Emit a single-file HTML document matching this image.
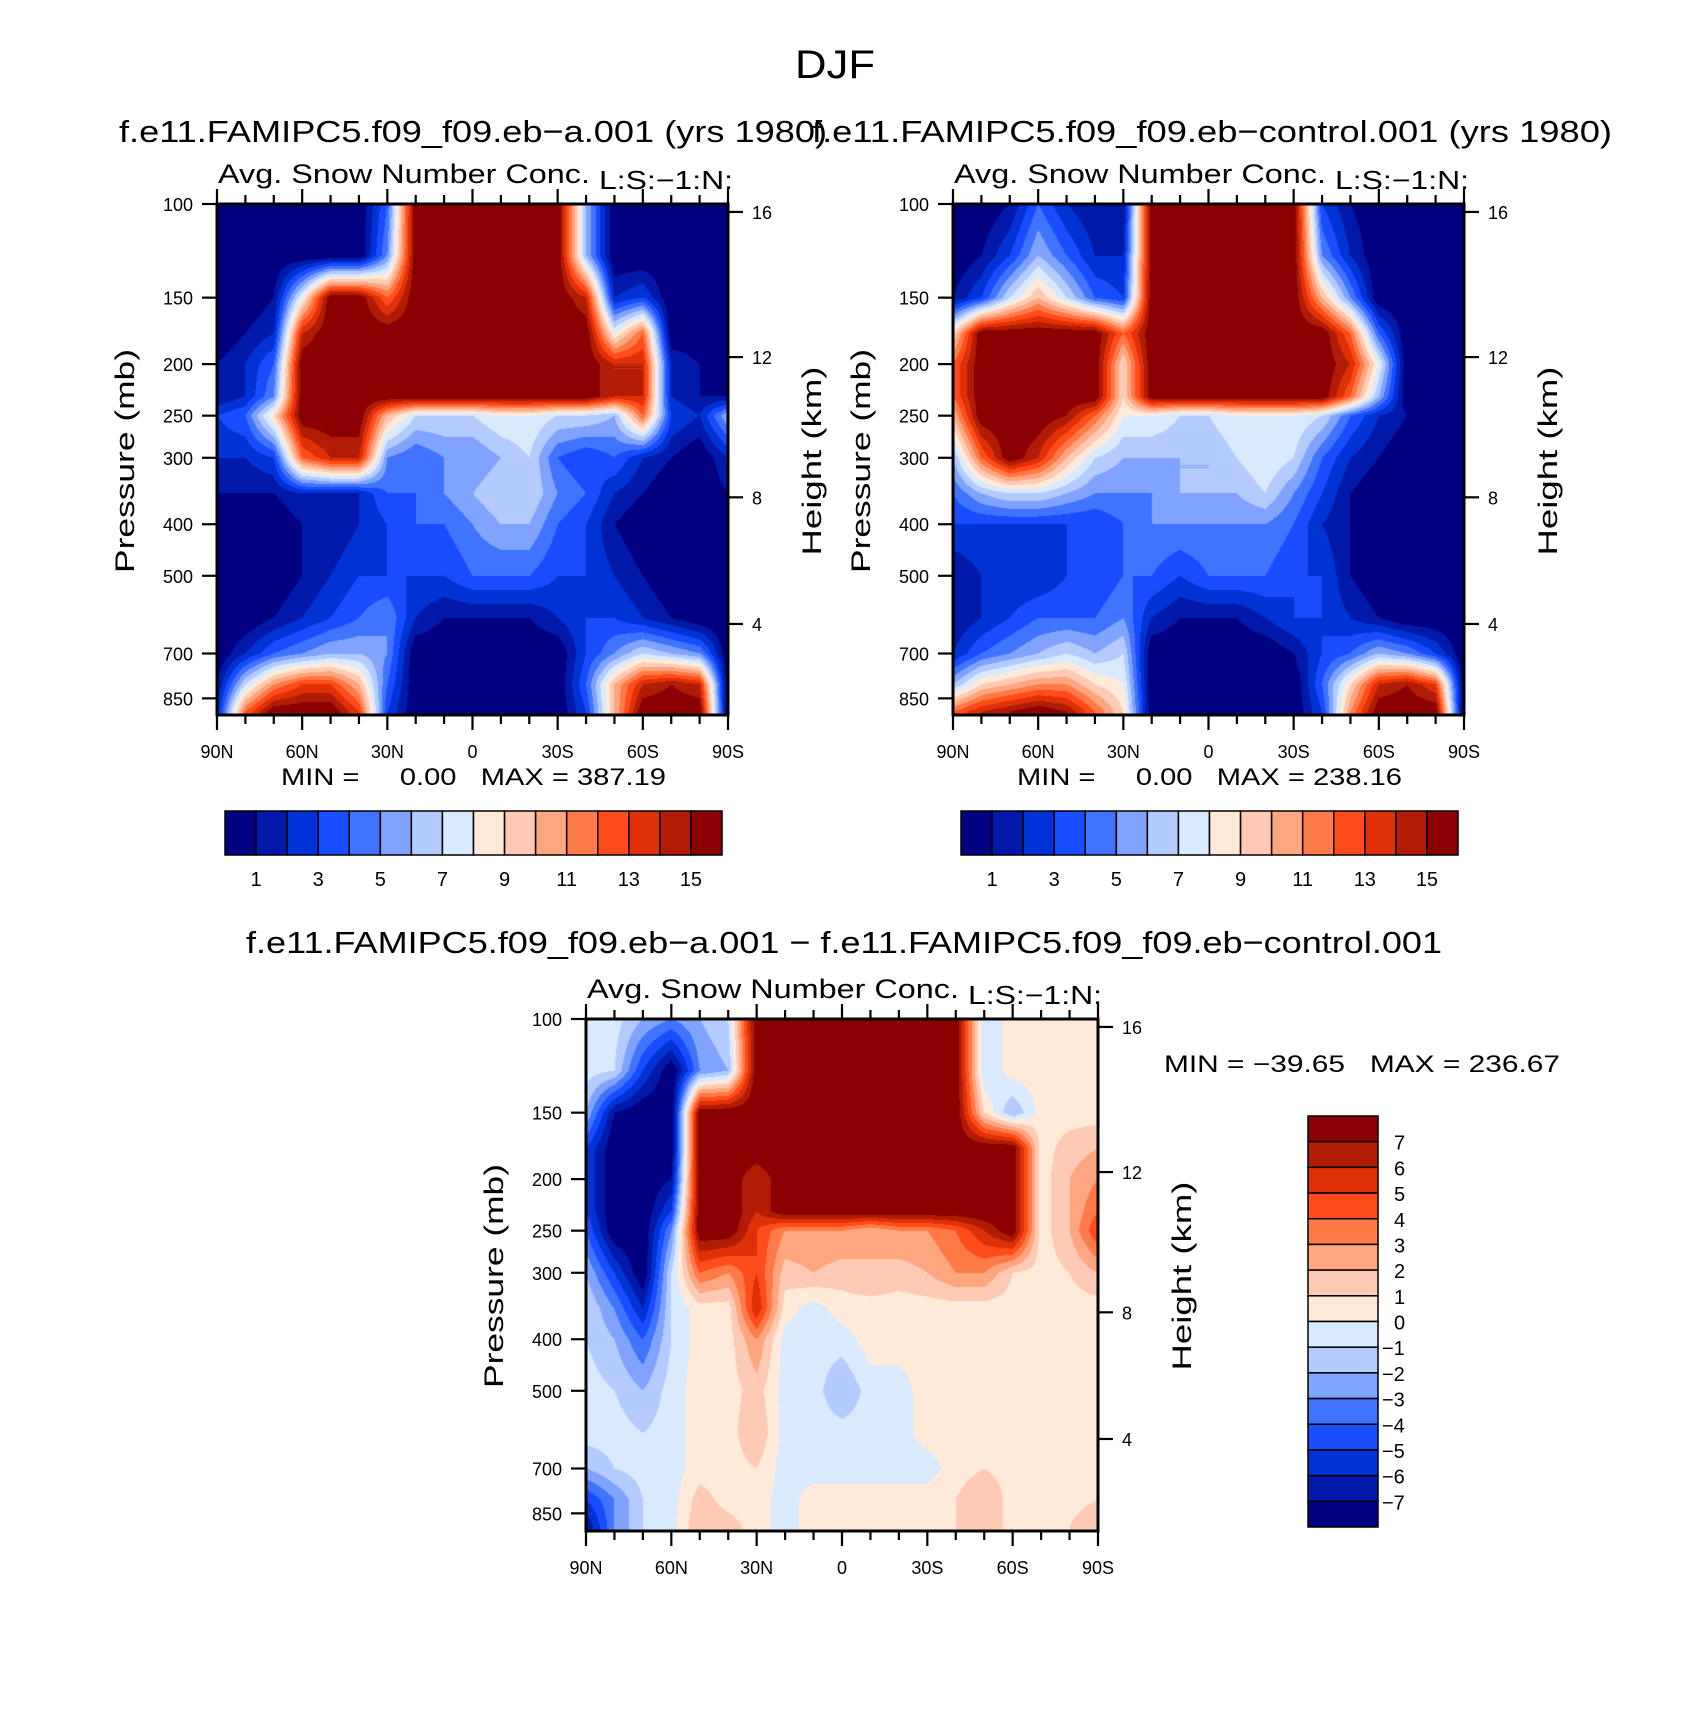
<!DOCTYPE html>
<html><head><meta charset="utf-8">
<style>
html,body{margin:0;padding:0;background:#fff;}
#root{position:relative;width:1699px;height:1736px;overflow:hidden;background:#fff;}
canvas{position:absolute;}
svg{position:absolute;left:0;top:0;}
text{font-family:"Liberation Sans",sans-serif;fill:#000;white-space:pre;}
</style></head>
<body>
<div id="root">
<canvas id="cA" width="511" height="511" style="left:217px;top:204px"></canvas>
<canvas id="cB" width="511" height="511" style="left:953px;top:204px"></canvas>
<canvas id="cC" width="512" height="512" style="left:586px;top:1019px"></canvas>
<svg id="ov" width="1699" height="1736"></svg>
</div>
<script>
// ---------- data ----------
const lats = [90,80,70,60,50,40,30,20,10,0,-10,-20,-30,-40,-50,-60,-70,-80,-90];
const levels = [100,125,150,175,200,230,250,300,350,400,500,600,700,800,900];
const latTicks = [90,60,30,0,-30,-60,-90];
const latTickLabels = ["90N","60N","30N","0","30S","60S","90S"];
const presTicks = [100,150,200,250,300,400,500,700,850];
const kmTicks = [16,12,8,4];
const kmTickPres = [103.5,194,356,616];
const cbLabelsAB = ["1","3","5","7","9","11","13","15"];
const cbLabelsC = ["7","6","5","4","3","2","1","0","\u22121","\u22122","\u22123","\u22124","\u22125","\u22126","\u22127"];
const palette = ["#000080","#0019a8","#0033d6","#1a4cff","#4073ff","#80a3ff","#b3cbff","#d9eaff",
 "#ffe9d9","#ffcab3","#ffa680","#ff7a47","#ff4c1a","#e03008","#b01c06","#8b0000"];
const valsA = [
[0,0,0,0,0,0,4,16,16,16,16,16,16,6,0,0,0,0,0],
[0,0,0,0,0,0,5,16,16,16,16,16,16,6,0,0,0,0,0],
[0,0,1,8,16,16,12,16,16,16,16,16,16,14,2,3,0,0,0],
[0,1,2,14,16,16,16,16,16,16,16,16,16,16,8,12,0,0,0],
[1,2,4,16,16,16,16,16,16,16,16,16,16,16,14,14,2,1,0],
[1,2,5,16,16,16,16,16,16,16,16,16,16,16,14,14,2,1,1],
[3,4,9,16,16,16,10,7,7,7,8,8,7,7,6,12,3,2,6],
[2,2,3,12,14,14,5,4,5,5,6,7,4,3,4,2,1,0,2],
[1,1,1,2,2,2,4,4,5,6,7,7,5,4,2,1,0,0,1],
[0,0,0,1,1,2,3,4,4,5,6,6,4,3,1,0,0,0,0],
[0,0,0,1,2,3,3,3,3,4,4,4,3,3,2,1,0,0,0],
[0,0,1,2,3,4,5,2,1,1,1,1,2,3,3,2,1,0,0],
[0,2,4,5,6,6,5,0,0,0,0,0,0,3,5,7,6,5,0],
[1,7,11,13,13,10,4,0,0,0,0,0,0,4,10,14,15,14,0],
[2,12,16,16,16,13,3,0,0,0,0,0,0,3,10,16,16,16,0]];
const valsB = [
[0,0,1,4,2,1,1,16,16,16,16,16,16,3,1,0,0,0,0],
[0,1,3,6,4,2,2,16,16,16,16,16,16,5,2,0,0,0,0],
[1,3,7,10,7,4,3,16,16,16,16,16,16,10,5,0,0,0,0],
[9,16,16,16,16,16,12,16,16,16,16,16,16,16,12,4,0,0,0],
[12,16,16,16,16,16,9,16,16,16,16,16,16,16,14,8,0,0,0],
[12,16,16,16,16,16,9,16,16,16,16,16,16,16,12,6,0,0,0],
[10,16,16,16,15,12,8,8,7,7,8,8,8,7,4,2,1,1,0],
[6,12,16,14,10,7,6,6,6,6,7,8,7,4,2,1,0,0,0],
[4,6,7,7,6,5,5,5,6,6,6,7,5,3,1,0,0,0,0],
[3,3,3,3,3,3,4,5,5,5,5,5,4,2,1,0,0,0,0],
[1,2,2,2,3,3,4,4,3,4,4,4,3,3,1,0,0,0,0],
[1,2,3,4,4,4,5,2,1,1,1,2,3,3,2,1,0,0,0],
[2,4,5,6,7,6,7,0,0,0,0,0,1,3,4,6,5,3,0],
[6,9,10,11,11,9,8,0,0,0,0,0,0,4,9,14,15,13,0],
[12,14,15,16,15,12,9,0,0,0,0,0,0,3,11,16,16,16,0]];
const valsC = [
[-0.5,-0.5,-2,-3,-2,-1,8,8,8,8,8,8,8,8,-1,0.5,0.5,0.5,0.5],
[-0.5,-1,-5,-8,-3,-2,8,8,8,8,8,8,8,8,-1,0.5,0.5,0.5,0.5],
[-2,-7,-8,-8,8,8,8,8,8,8,8,8,8,8,1,-2,0.5,0.5,0.5],
[-5,-8,-8,-8,8,8,8,8,8,8,8,8,8,8,8,8,0.5,1.5,2],
[-5,-8,-8,-7,8,8,6,8,8,8,8,8,8,8,8,8,0.5,2,3],
[-5,-8,-8,-5,8,8,6,8,8,8,8,8,8,8,8,8,0.5,2,4],
[-4,-8,-8,-3,8,8,5,3,3,3,2,3,3,4,6,8,0.5,2,5],
[-2,-5,-8,-1,4,3,5,1.5,2,1.5,2,1.5,2,3,3,1,0.5,1,2],
[-1,-3,-6,-1,0.5,0.5,6,0.5,-0.5,0.5,0.5,0.5,0.5,0.5,0.5,0.5,0.5,0.5,0.5],
[-1,-2,-4,-1,0.5,0.5,3,-0.5,-0.5,-0.5,0.5,0.5,0.5,0.5,0.5,0.5,0.5,0.5,0.5],
[-0.5,-1,-2,-0.5,0.5,0.5,1.5,-0.5,-0.5,-2,-0.5,-0.5,0.5,0.5,0.5,0.5,0.5,0.5,0.5],
[-0.5,-0.5,-1,-0.5,0.5,0.5,2,-0.5,-0.5,-0.5,-0.5,-0.5,0.5,0.5,0.5,0.5,0.5,0.5,0.5],
[-2,-1,-0.5,-0.5,0.5,0.5,1,-0.5,-0.5,-0.5,-0.5,-0.5,-0.5,0.5,1,0.5,0.5,0.5,1],
[-5,-3,-1,-0.5,1.5,0.5,0.5,-0.5,0.5,0.5,0.5,0.5,0.5,1,2,0.5,0.5,0.5,1],
[-7,-3,-1,-0.5,2,1.5,0.5,-0.5,0.5,0.5,0.5,0.5,0.5,1,2,0.5,0.5,1,2]];

// ---------- scales ----------
const PK = 231;
function xLat(lat, x0, w){ return x0 + (90-lat)/180*w; }
function yP(p, y0){ return y0 + PK*Math.log(p/100); }
function latOf(px, w){ return 90 - 180*px/w; }
function pOf(py){ return 100*Math.exp(py/PK); }

function interp(vals, lat, p){
  let fi = (90-lat)/10; fi=Math.max(0,Math.min(lats.length-1.0001,fi));
  const i=Math.floor(fi), ti=fi-i;
  const lp=Math.log(p); let j=0;
  if(p<=levels[0]){ return mix(vals,i,ti,0,0); }
  if(p>=levels[levels.length-1]){ return mix(vals,i,ti,levels.length-2,1); }
  while(j<levels.length-2 && levels[j+1]<p) j++;
  const tj=(lp-Math.log(levels[j]))/(Math.log(levels[j+1])-Math.log(levels[j]));
  return mix(vals,i,ti,j,tj);
}
function mix(v,i,ti,j,tj){
  const a=v[j][i]*(1-ti)+v[j][i+1]*ti, b=v[j+1][i]*(1-ti)+v[j+1][i+1]*ti;
  return a*(1-tj)+b*tj;
}
function hex(h){return [parseInt(h.substr(1,2),16),parseInt(h.substr(3,2),16),parseInt(h.substr(5,2),16)];}
const palRGB = palette.map(hex);
function drawHeat(id, vals, offset){
  const c=document.getElementById(id), ctx=c.getContext('2d');
  const w=c.width,h=c.height, img=ctx.createImageData(w,h);
  for(let py=0;py<h;py++){
    const p=pOf(py+0.5);
    for(let px=0;px<w;px++){
      const v=interp(vals, latOf(px+0.5,w), p);
      let k=Math.floor(v)+offset; k=Math.max(0,Math.min(15,k));
      const col=palRGB[k], o=(py*w+px)*4;
      img.data[o]=col[0];img.data[o+1]=col[1];img.data[o+2]=col[2];img.data[o+3]=255;
    }
  }
  ctx.putImageData(img,0,0);
}
drawHeat('cA',valsA,0);
drawHeat('cB',valsB,0);
drawHeat('cC',valsC,8);

// ---------- svg overlay ----------
const NS="http://www.w3.org/2000/svg", svg=document.getElementById('ov');
function el(tag, attrs, parent){ const e=document.createElementNS(NS,tag); for(const k in attrs) e.setAttribute(k,attrs[k]); (parent||svg).appendChild(e); return e; }
function txt(s, attrs, name, parent){
  const t=el('text',attrs,parent); t.textContent=s;
  
  
  return t;
}
function line(x1,y1,x2,y2,sw,name,g){
  const l=el('line',{x1:x1,y1:y1,x2:x2,y2:y2,stroke:'#000','stroke-width':sw},g);
  
  
  return l;
}

txt("DJF",{x:835,y:78,'font-size':40,'text-anchor':'middle',textLength:80,lengthAdjust:'spacingAndGlyphs'},'figure-title');

function panel(x0,y0,W,name,title,tx0,tx1){
  const g=el('g',{});
  
  
  if(title) txt(title,{x:tx0,y:142,'font-size':31,textLength:tx1-tx0,lengthAdjust:'spacingAndGlyphs'},'panel-title',g);
  txt("Avg. Snow Number Conc.",{x:x0+1,y:y0-21,'font-size':27,textLength:372,lengthAdjust:'spacingAndGlyphs'},'plot-subtitle',g);
  txt("L:S:\u22121:N:",{x:x0+382,y:y0-15,'font-size':26,textLength:134,lengthAdjust:'spacingAndGlyphs'},'plot-units',g);
  const fr=el('rect',{x:x0,y:y0,width:W,height:W,fill:'none',stroke:'#000','stroke-width':3},g);
  
  
  for(let lat=90;lat>=-90;lat-=10){
    const x=xLat(lat,x0,W), major=(lat%30===0);
    const L=major?15:9;
    line(x,y0+W,x,y0+W+L,2.2,'x-tick',g);
    line(x,y0,x,y0-L,2.2,'x-top-tick',g);
  }
  latTicks.forEach((lat,i)=>{
    txt(latTickLabels[i],{x:xLat(lat,x0,W),y:y0+W+43,'font-size':18,'text-anchor':'middle'},'x-tick-label',g);
  });
  presTicks.forEach(p=>{
    const y=yP(p,y0);
    line(x0-15,y,x0,y,2.2,'y-tick',g);
    txt(String(p),{x:x0-24,y:y+7,'font-size':18,'text-anchor':'end'},'y-tick-label',g);
  });
  kmTicks.forEach((k,i)=>{
    const y=yP(kmTickPres[i],y0);
    line(x0+W,y,x0+W+15,y,2.2,'y2-tick',g);
    txt(String(k),{x:x0+W+24,y:y+7,'font-size':18},'y2-tick-label',g);
  });
  const cx=x0-93, cy=y0+257;
  txt("Pressure (mb)",{x:0,y:0,'font-size':27,'text-anchor':'middle',textLength:224,lengthAdjust:'spacingAndGlyphs',transform:`translate(${cx+10},${cy}) rotate(-90)`},'y-axis-title',g);
  const hx=x0+W+83;
  txt("Height (km)",{x:0,y:0,'font-size':27,'text-anchor':'middle',textLength:189,lengthAdjust:'spacingAndGlyphs',transform:`translate(${hx+10},${cy}) rotate(-90)`},'y2-axis-title',g);
  return g;
}
panel(217,204,511,'panel-a',"f.e11.FAMIPC5.f09_f09.eb\u2212a.001 (yrs 1980)",119,827);
panel(953,204,511,'panel-control',"f.e11.FAMIPC5.f09_f09.eb\u2212control.001 (yrs 1980)",812,1612);
panel(586,1019,512,'panel-difference',null,0,0);
txt("MIN =     0.00   MAX = 387.19",{x:281,y:785,'font-size':24,textLength:385,lengthAdjust:'spacingAndGlyphs'},'min-max-a');
txt("MIN =     0.00   MAX = 238.16",{x:1017,y:785,'font-size':24,textLength:385,lengthAdjust:'spacingAndGlyphs'},'min-max-control');
txt("f.e11.FAMIPC5.f09_f09.eb\u2212a.001 \u2212 f.e11.FAMIPC5.f09_f09.eb\u2212control.001",{x:246,y:953,'font-size':31,textLength:1196,lengthAdjust:'spacingAndGlyphs'},'difference-title');
txt("MIN = \u221239.65   MAX = 236.67",{x:1164,y:1072,'font-size':24,textLength:396,lengthAdjust:'spacingAndGlyphs'},'min-max-difference');

function hbar(x0,y0,w,h,name){
  const g=el('g',{});  
  const bw=w/palette.length;
  palette.forEach((c,i)=>{
    const r=el('rect',{x:x0+i*bw,y:y0,width:bw,height:h,fill:c,stroke:'#000','stroke-width':1.5},g);
    
    
  });
  cbLabelsAB.forEach((s,i)=>{
    txt(s,{x:x0+(1+2*i)*bw,y:y0+h+31,'font-size':20,'text-anchor':'middle'},'colorbar-label',g);
  });
}
hbar(225,811,497,44,'colorbar-a');
hbar(961,811,497,44,'colorbar-control');
(function(){
  const x0=1308,y0=1116,w=70,h=411;
  const g=el('g',{});  
  const bh=h/palette.length;
  for(let i=0;i<palette.length;i++){
    const r=el('rect',{x:x0,y:y0+i*bh,width:w,height:bh,fill:palette[palette.length-1-i],stroke:'#000','stroke-width':1.5},g);
    
    
  }
  cbLabelsC.forEach((s,i)=>{
    txt(s,{x:x0+w+16+(s.length>1?-12:0),y:y0+(i+1)*bh+8,'font-size':20},'colorbar-label',g);
  });
})();
</script>
</body></html>
